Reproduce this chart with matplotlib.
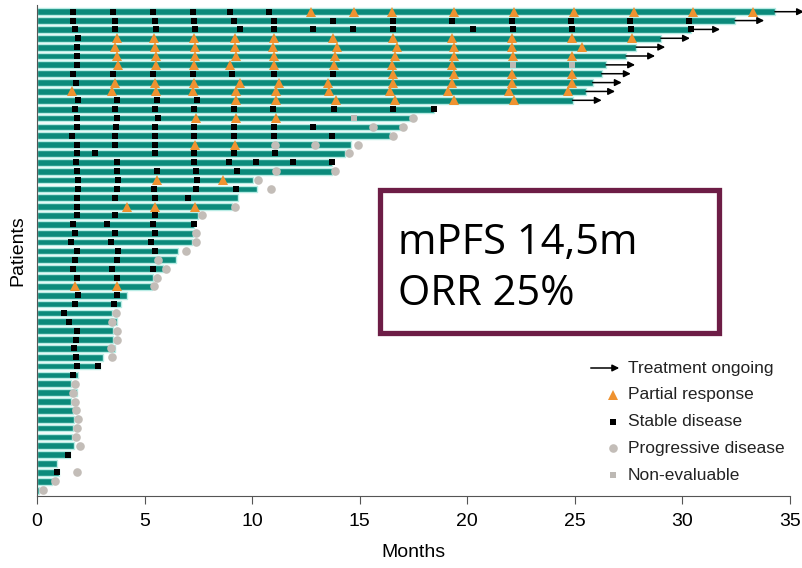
import matplotlib
matplotlib.use("Agg")
import matplotlib.pyplot as plt
from matplotlib.patches import Rectangle

plt.rcParams['font.family'] = ['Liberation Sans', 'DejaVu Sans']

# one entry per patient, top to bottom (months)
bar_end = [34.3, 32.45, 30.4, 29.0, 27.85, 27.38, 26.45, 26.25, 25.83, 25.52,
           24.9, 18.43, 17.34, 16.88, 16.4, 14.58, 14.32, 13.73, 13.7, 10.06,
           10.21, 9.36, 9.05, 7.5, 7.3, 7.27, 7.19, 6.54, 6.45, 5.87,
           5.41, 5.33, 4.2, 3.89, 3.47, 3.7, 3.55, 3.55, 3.63, 3.05,
           2.93, 1.92, 1.57, 1.87, 1.57, 1.69, 1.74, 1.69, 1.64, 1.72,
           1.53, 0.95, 1.0, 0.68, 0.09]
ongoing = [1] * 11 + [0] * 44

partial_response = [
    [12.74, 14.75, 16.49, 19.4, 22.19, 24.98, 27.77, 30.51, 33.3],
    [], [],
    [3.7, 5.45, 7.3, 9.2, 11.03, 13.74, 16.57, 19.31, 22.1, 24.86, 27.65],
    [3.63, 5.49, 7.35, 9.2, 10.96, 13.93, 16.72, 19.36, 22.07, 25.32],
    [3.7, 5.53, 7.35, 9.25, 11.03, 13.85, 16.64, 19.36, 22.14, 24.89],
    [3.78, 5.53, 7.3, 8.97, 11.03, 13.82, 16.49, 19.31],
    [16.57, 19.36, 22.1, 24.86],
    [3.63, 5.49, 7.3, 9.44, 11.27, 13.51, 16.54, 19.31, 22.07, 24.86],
    [1.61, 3.47, 5.53, 7.27, 9.25, 11.11, 13.59, 16.4, 19.12, 21.92, 24.7],
    [9.25, 11.11, 13.9, 16.64, 19.4, 22.19],
    [], [7.38, 9.25, 11.11], [], [], [7.35, 9.2], [], [], [], [5.56, 8.63],
    [], [], [4.17, 5.5, 7.35], [], [], [], [], [], [], [],
    [], [1.77, 3.7], [], [], [], [], [], [], [], [],
    [], [], [], [], [], [], [], [], [], [],
    [], [], [], [], [],
]
stable_disease = [
    [1.69, 3.55, 5.38, 7.24, 8.97, 10.8],
    [1.69, 3.63, 5.49, 7.3, 9.16, 11.0, 13.78, 16.57, 19.31, 22.07, 24.83, 27.57, 30.32],
    [1.77, 3.63, 5.53, 7.35, 9.44, 11.03, 12.85, 14.68, 16.54, 20.25, 22.11, 24.86, 27.61, 30.39],
    [1.92], [1.84], [1.84], [1.84],
    [1.69, 3.55, 5.41, 7.24, 9.08, 11.03, 13.78],
    [1.81], [],
    [1.92, 3.73, 5.56, 7.42],
    [1.77, 3.63, 5.49, 7.3, 9.16, 10.99, 13.82, 16.57, 18.43],
    [1.84, 3.73, 5.64],
    [1.84, 3.66, 5.5, 7.3, 9.16, 11.03, 12.84],
    [1.61, 3.63, 5.5, 7.3, 9.16, 11.03, 13.7],
    [1.87, 3.63, 5.5],
    [1.84, 2.7, 5.47, 7.3, 9.16, 11.07],
    [1.81, 3.73, 7.3, 8.91, 10.16, 11.9, 13.73],
    [1.84, 3.73, 5.56, 7.38, 9.31],
    [1.89, 3.75, 7.42],
    [1.89, 3.73, 5.44, 7.38, 9.25],
    [1.84, 3.63, 5.5, 7.04],
    [1.84], [1.84, 3.63, 5.5], [1.66, 3.24, 5.38, 7.3], [1.77, 3.63, 5.5],
    [1.57, 3.44, 5.3], [1.84, 3.78, 5.49], [1.77, 3.7], [1.69, 3.47, 5.41],
    [1.84, 3.7], [], [1.89, 3.73], [1.77, 3.59], [1.27], [1.49], [1.84],
    [1.81], [1.72], [1.8], [1.87, 2.85], [1.69],
    [], [], [], [], [], [], [], [], [1.46], [], [0.95], [], [],
]
progressive = [
    [], [], [], [], [], [], [], [], [], [], [], [],
    [17.5], [15.64, 17.03], [16.57], [11.07, 12.92, 14.9], [14.52], [],
    [11.09, 13.85], [10.26], [10.86], [], [9.2], [7.69], [], [7.38], [7.38],
    [6.91], [5.64], [6.0], [5.56], [5.45], [], [], [3.66], [3.5], [3.73],
    [3.7], [3.44], [3.5], [], [], [1.77], [1.66], [1.77], [1.81], [1.89],
    [1.87], [1.8], [2.0], [], [], [1.84], [0.84], [0.29],
]
non_evaluable = [[] for _ in range(55)]
non_evaluable[6] = [22.14, 24.89]
non_evaluable[12] = [14.75]

teal = '#0b8a7b'
orange = '#ef9230'
grey = '#c3bdb8'

fig = plt.figure(figsize=(8.02, 5.68), dpi=100)
ax = fig.add_axes([37 / 802, 72 / 568, 753 / 802, 491 / 568])

rows = list(range(1, len(bar_end) + 1))
ax.barh(rows, bar_end, height=0.76, color=teal, edgecolor='#b8ece5', linewidth=1.0, zorder=2)


def scatter_marks(lists, **kw):
    xs, ys = [], []
    for r, vals in zip(rows, lists):
        for v in vals:
            xs.append(v)
            ys.append(r)
    ax.plot(xs, ys, linestyle='none', zorder=4, clip_on=False, **kw)


scatter_marks(progressive, marker='o', ms=6.2, color=grey, mew=0)
scatter_marks(non_evaluable, marker='s', ms=5, color='#bdb9b4', mew=0)
scatter_marks(stable_disease, marker='s', ms=4.8, color='black', mew=0)
scatter_marks(partial_response, marker='^', ms=7, color=orange, mew=0)

for r, e, on in zip(rows, bar_end, ongoing):
    if on:
        ax.annotate('', xy=(e + 1.35, r), xytext=(e, r),
                    arrowprops=dict(arrowstyle='-|>', color='black', lw=1.1,
                                    mutation_scale=10, shrinkA=0, shrinkB=0),
                    annotation_clip=False, zorder=5)

ax.set_xlim(0, 35)
ax.set_ylim(55.66, 0.244)
ax.set_xticks(range(0, 36, 5))
ax.set_yticks([])
ax.spines['top'].set_visible(False)
ax.spines['right'].set_visible(False)
ax.spines['left'].set_color('#555555')
ax.spines['bottom'].set_color('#555555')
ax.tick_params(axis='x', direction='out', length=6, color='#555555', labelsize=14, pad=6)
ax.set_xlabel('Months', fontsize=14, labelpad=10)
ax.set_ylabel('Patients', fontsize=14, labelpad=8)


def fx(px):
    return px / 802


def fy(py):
    return 1 - py / 568


# legend drawn by hand
fig.add_artist(matplotlib.patches.FancyArrowPatch((fx(588), fy(368)), (fx(622), fy(368)),
                                                   transform=fig.transFigure, arrowstyle='-|>',
                                                   mutation_scale=10, color='black', lw=1.1))
leg_items = [('^', orange, 7, 'Partial response'),
             ('s', 'black', 5, 'Stable disease'),
             ('o', grey, 6.2, 'Progressive disease'),
             ('s', '#bdb9b4', 5, 'Non-evaluable')]
fig.text(fx(628), fy(368), 'Treatment ongoing', fontsize=12.5, va='center', color='#222222')
for i, (m, c, s, label) in enumerate(leg_items):
    yy = 395 + i * 26.7
    fig.add_artist(plt.Line2D([fx(613)], [fy(yy)], marker=m, color=c, ms=s, mew=0,
                              linestyle='none', transform=fig.transFigure))
    fig.text(fx(628), fy(yy), label, fontsize=12.5, va='center', color='#222222')

# summary box
fig.add_artist(Rectangle((fx(380), fy(333)), fx(339), (333 - 190) / 568, transform=fig.transFigure,
                         fill=False, edgecolor='#6d1d46', linewidth=3.8))
fig.text(fx(398), fy(254), 'mPFS 14,5m', fontsize=30, family='Open Sans', va='baseline')
fig.text(fx(398), fy(305), 'ORR 25%', fontsize=30, family='Open Sans', va='baseline')

fig.savefig('out.png', dpi=100)
